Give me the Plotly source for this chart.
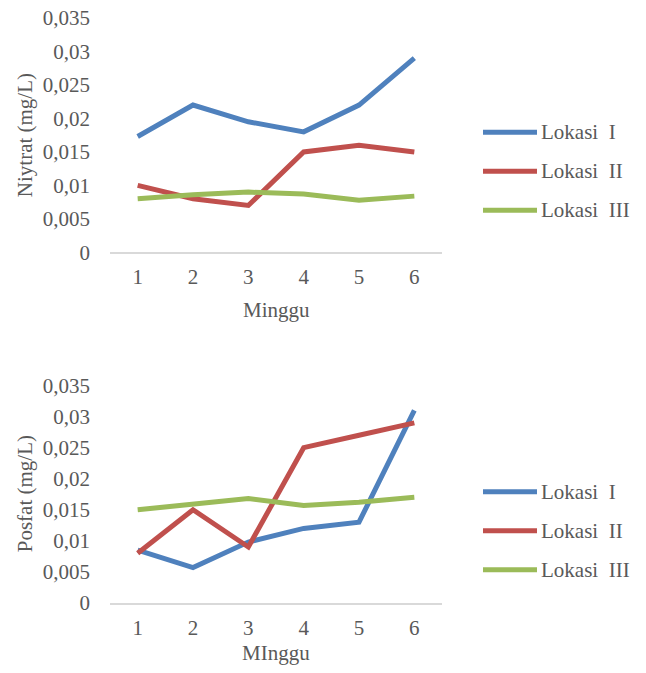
import plotly.graph_objects as go

W, H = 646, 673

weeks = ["1", "2", "3", "4", "5", "6"]
series_names = ["Lokasi\u00a0 I", "Lokasi\u00a0 II", "Lokasi\u00a0 III"]
colors = ["#4F81BD", "#C0504D", "#9BBB59"]

nitrat_lok1 = [0.0173, 0.0220, 0.0195, 0.0180, 0.0220, 0.0290]
nitrat_lok2 = [0.0100, 0.0080, 0.0070, 0.0150, 0.0160, 0.0150]
nitrat_lok3 = [0.0080, 0.0086, 0.0090, 0.0087, 0.0078, 0.0084]

posfat_lok1 = [0.0085, 0.0057, 0.0098, 0.0120, 0.0130, 0.0310]
posfat_lok2 = [0.0080, 0.0150, 0.0090, 0.0250, 0.0270, 0.0290]
posfat_lok3 = [0.0150, 0.0160, 0.0168, 0.0157, 0.0162, 0.0170]

y_tickvals = [0, 0.005, 0.01, 0.015, 0.02, 0.025, 0.03, 0.035]
y_ticktext = ["0", "0,005", "0,01", "0,015", "0,02", "0,025", "0,03", "0,035"]

FONT = "Liberation Serif"
GREY = "#595959"
FS = 21

# observed: rendered paper spans screen rows 12..660
OFF, RH = 12, 648


def px(x):
    return x / W


def py(y):
    return 1 - (y - OFF) / RH


fig = go.Figure()

panels = [
    dict(xa="x", ya="y", data=[nitrat_lok1, nitrat_lok2, nitrat_lok3],
         top=18, bottom=252, ytitle="Niytrat (mg/L)", xtitle="Minggu",
         xtitle_y=310, leg_y=[132, 171, 210]),
    dict(xa="x2", ya="y2", data=[posfat_lok1, posfat_lok2, posfat_lok3],
         top=385, bottom=602, ytitle="Posfat (mg/L)", xtitle="MInggu",
         xtitle_y=652, leg_y=[491, 530, 569]),
]

annotations = []
shapes = []
for i, p in enumerate(panels):
    for vals, name, col in zip(p["data"], series_names, colors):
        fig.add_trace(go.Scatter(x=weeks, y=vals, mode="lines", name=name,
                                 line=dict(color=col, width=5),
                                 xaxis=p["xa"], yaxis=p["ya"], showlegend=False))
    sfx = "" if i == 0 else "2"
    fig.update_layout(**{
        "xaxis" + sfx: dict(domain=[px(110), px(442)], anchor=p["ya"],
                            range=[-0.5, 5.5],
                            showgrid=False, showline=True, linecolor="#D9D9D9",
                            linewidth=1.5, ticks="", ticklabelstandoff=5,
                            tickfont=dict(family=FONT, size=FS, color=GREY),
                            zeroline=False, fixedrange=True),
        "yaxis" + sfx: dict(domain=[py(p["bottom"]), py(p["top"])], anchor=p["xa"],
                            range=[0, 0.035], showgrid=False, showline=False,
                            zeroline=False, tickvals=y_tickvals, ticktext=y_ticktext,
                            ticks="", ticklabelstandoff=19,
                            tickfont=dict(family=FONT, size=FS, color=GREY)),
    })
    annotations.append(dict(text=p["xtitle"], x=px(276), y=py(p["xtitle_y"]),
                            xref="paper", yref="paper", showarrow=False,
                            xanchor="center", yanchor="middle",
                            font=dict(family=FONT, size=FS, color=GREY)))
    annotations.append(dict(text=p["ytitle"], x=px(25), y=py((p["top"] + p["bottom"]) / 2),
                            xref="paper", yref="paper", showarrow=False, textangle=-90,
                            xanchor="center", yanchor="middle",
                            font=dict(family=FONT, size=FS, color=GREY)))
    for name, col, ly in zip(series_names, colors, p["leg_y"]):
        shapes.append(dict(type="line", xref="paper", yref="paper",
                           x0=px(483), x1=px(537), y0=py(ly), y1=py(ly),
                           line=dict(color=col, width=5)))
        annotations.append(dict(text=name, x=px(539), y=py(ly), xref="paper", yref="paper",
                                showarrow=False, xanchor="left", yanchor="middle",
                                font=dict(family=FONT, size=FS, color=GREY)))

fig.update_layout(width=W, height=H, margin=dict(l=0, r=0, t=0, b=0),
                  paper_bgcolor="white", plot_bgcolor="white",
                  annotations=annotations, shapes=shapes, showlegend=False)

fig.write_html("out.html", config={"displayModeBar": False, "responsive": False},
               post_script="document.body.style.margin='0';document.body.style.overflow='hidden';")
